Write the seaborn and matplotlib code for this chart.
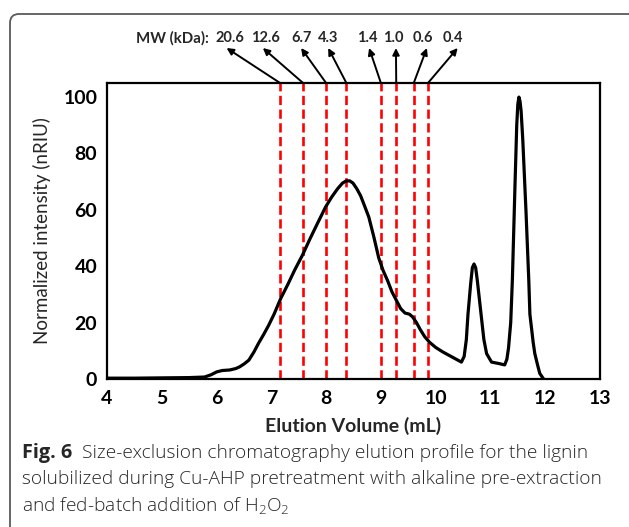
import numpy as np
import pandas as pd
import matplotlib
matplotlib.use("Agg")
import matplotlib.pyplot as plt
import seaborn as sns
from matplotlib.path import Path
from matplotlib.patches import PathPatch

# ---------------- data ----------------
elution_ml = [4.0, 4.5, 5.0, 5.5, 5.78, 5.9, 6.0, 6.1, 6.24, 6.35, 6.42, 6.5, 6.59, 6.68,
              6.77, 6.86, 6.95, 7.05, 7.17, 7.3, 7.43, 7.57, 7.7, 7.85, 7.99, 8.1, 8.21,
              8.3, 8.36, 8.43, 8.49, 8.56, 8.63, 8.7, 8.78, 8.87, 8.96, 9.04, 9.12, 9.2,
              9.28, 9.36, 9.44, 9.52, 9.58, 9.65, 9.72, 9.8, 9.89, 10.0, 10.13, 10.3,
              10.47, 10.52, 10.56, 10.59, 10.64, 10.67, 10.70, 10.73, 10.76, 10.8, 10.84, 10.88,
              10.93, 11.02, 11.15, 11.26, 11.3, 11.33, 11.37, 11.40, 11.45, 11.48, 11.50, 11.52,
              11.54, 11.56, 11.59, 11.65, 11.7, 11.72, 11.78, 11.81, 11.86, 11.90, 11.97]
intensity = [0.3, 0.3, 0.4, 0.5, 0.7, 1.5, 2.5, 3.0, 3.2, 3.7, 4.3, 5.3, 6.7, 9.5,
             12.8, 15.8, 19.0, 23.0, 28.5, 33.5, 38.8, 44.0, 49.5, 55.5, 61.0, 64.5, 67.5,
             69.5, 70.2, 70.3, 69.5, 67.5, 65.0, 61.5, 57.4, 50.5, 43.0, 38.5, 35.0, 31.0,
             28.0, 25.0, 23.4, 23.0, 22.0, 20.0, 17.5, 15.0, 13.0, 11.2, 9.6, 7.8,
             6.0, 8.0, 14.0, 23.0, 34.0, 39.5, 40.8, 39.5, 35.0, 28.0, 21.0, 14.0,
             9.0, 6.0, 5.5, 5.0, 7.0, 11.0, 20.0, 35.0, 70.0, 90.0, 97.5, 100.0,
             98.5, 95.0, 85.0, 59.0, 35.0, 23.0, 13.0, 9.0, 5.0, 2.0, 0.0]

standard_ml = [7.16, 7.58, 8.0, 8.37, 9.0, 9.28, 9.6, 9.86]
standard_mw = ["20.6", "12.6", "6.7", "4.3", "1.4", "1.0", "0.6", "0.4"]

x_ticks = [4, 5, 6, 7, 8, 9, 10, 11, 12, 13]
y_ticks = [0, 20, 40, 60, 80, 100]

df = pd.DataFrame({"Elution Volume (mL)": elution_ml, "Intensity": intensity})

# ---------------- style ----------------
sns.set_theme(style="white")
plt.rcParams["font.family"] = ["Lato", "DejaVu Sans"]
plt.rcParams["mathtext.default"] = "regular"

W, H = 629, 527
fig = plt.figure(figsize=(W / 100, H / 100), dpi=100)
fig.patch.set_facecolor("white")
ax = fig.add_axes([107 / W, 1 - 379 / H, 493 / W, 296 / H])

for xv in standard_ml:
    ax.axvline(xv, color="#ff0000", lw=1.9, dashes=(3.5, 1.7), zorder=1)

sns.lineplot(data=df, x="Elution Volume (mL)", y="Intensity", ax=ax,
             color="black", lw=2.3, sort=False, zorder=3)

ax.set_xlim(4, 13)
ax.set_ylim(0, 105)
ax.set_xticks(x_ticks)
ax.set_yticks(y_ticks)
ax.set_xticklabels([str(v) for v in x_ticks], fontsize=14, fontweight="bold")
ax.set_yticklabels([str(v) for v in y_ticks], fontsize=14, fontweight="bold")
ax.tick_params(direction="in", length=5, width=1.5, colors="black")
ax.tick_params(axis="x", pad=8)
ax.tick_params(axis="y", pad=7)
for s in ax.spines.values():
    s.set_color("black")
    s.set_linewidth(1.6)
ax.set_xlabel("Elution Volume (mL)", fontsize=14, fontweight="bold", labelpad=7)
ax.set_ylabel("Normalized intensity (nRIU)", fontsize=13.5, fontweight="normal", labelpad=9)

# ---------------- MW annotation arrows ----------------
label_px = [230, 265, 302, 328, 367, 393, 423, 453]
for xv, lab, lx in zip(standard_ml, standard_mw, label_px):
    ax.annotate("", xy=(lx + (xv - 8.3) * 3, H - 48), xycoords="figure pixels",
                xytext=(xv, 105), textcoords="data",
                arrowprops=dict(arrowstyle="-|>", color="black", lw=1.4,
                                mutation_scale=10, shrinkA=0, shrinkB=0),
                annotation_clip=False)
    fig.text(lx / W, 1 - 38 / H, lab, ha="center", va="center",
             fontsize=10.5, fontweight="bold")
fig.text(172 / W, 1 - 38 / H, "MW (kDa):", ha="center", va="center",
         fontsize=10.8, fontweight="bold")

# ---------------- frame ----------------
r = 9
verts = [(10 / W, 0), (10 / W, 1 - (14 + r) / H),
         (10 / W, 1 - 14 / H), ((10 + r) / W, 1 - 14 / H), (1.0, 1 - 14 / H)]
codes = [Path.MOVETO, Path.LINETO, Path.CURVE3, Path.CURVE3, Path.LINETO]
fig.add_artist(PathPatch(Path(verts, codes), transform=fig.transFigure,
                         fill=False, edgecolor="#5a5a5a", lw=1.3))

# ---------------- caption ----------------
cap_font = ["Open Sans", "DejaVu Sans"]
cap_size = 13.8
t_bold = fig.text(22 / W, 1 - 453 / H, "Fig. 6", ha="left", va="center",
                  fontsize=cap_size + 0.5, fontweight="bold", family=cap_font)
fig.canvas.draw()
bb = t_bold.get_window_extent()
fig.text((bb.x1 + 10) / W, 1 - 453 / H,
         "Size-exclusion chromatography elution profile for the lignin",
         ha="left", va="center", fontsize=cap_size, family=cap_font, fontweight="light")
fig.text(22 / W, 1 - 479 / H,
         "solubilized during Cu-AHP pretreatment with alkaline pre-extraction",
         ha="left", va="center", fontsize=cap_size, family=cap_font, fontweight="light")
fig.text(22 / W, 1 - 505 / H, r"and fed-batch addition of H$_2$O$_2$",
         ha="left", va="center", fontsize=cap_size, family=cap_font, fontweight="light")

fig.savefig("out.png", dpi=100, facecolor="white")
